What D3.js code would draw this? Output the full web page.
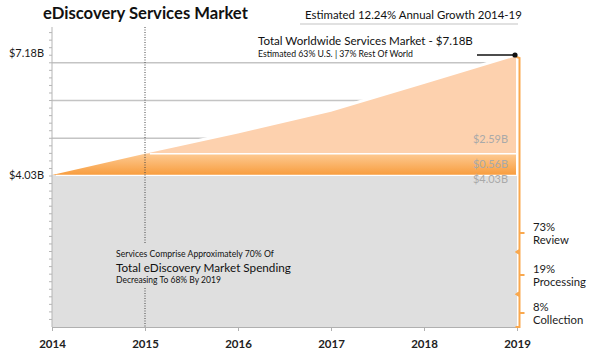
<!DOCTYPE html>
<html>
<head>
<meta charset="utf-8">
<script src="https://cdn.jsdelivr.net/npm/d3@7"></script>
<style>
  html, body { margin: 0; padding: 0; background: #fff; }
  svg { display: block; }
  text { font-family: Lato, "Open Sans", sans-serif; }
</style>
</head>
<body>
<svg id="chart" width="590" height="357"></svg>
<script>
// ---------- data ----------
const years = [2014, 2015, 2016, 2017, 2018, 2019];
const baseValues = [4.03, 4.03, 4.03, 4.03, 4.03, 4.03];      // grey base ($B)
const bandTopValues = [4.03, 4.59, 4.59, 4.59, 4.59, 4.59];   // orange band top ($B)
const totalValues = [4.03, 4.59, 5.13, 5.70, 6.44, 7.18];     // total market ($B)
const gridValues = [5, 6, 7];
const yLabelValues = [7.18, 4.03];
const yLabelTexts = ["$7.18B", "$4.03B"];
const segmentLabels = ["$2.59B", "$0.56B", "$4.03B"];
const segmentLabelValues = [4.99, 4.31, 3.93];
const sharePcts = ["73%", "19%", "8%"];
const shareNames = ["Review", "Processing", "Collection"];
const sharePointers = [2.49, 1.38, 0.37];
const shareBounds = [1.99, 0.87];
const title = "eDiscovery Services Market";
const subtitle = "Estimated 12.24% Annual Growth 2014-19";
const totalTitle = "Total Worldwide Services Market - $7.18B";
const totalSub = "Estimated 63% U.S. | 37% Rest Of World";
const noteLines = ["Services Comprise Approximately 70% Of", "Total eDiscovery Market Spending", "Decreasing To 68% By 2019"];

// ---------- setup ----------
const svg = d3.select("#chart");
const x = d3.scaleLinear().domain([2014, 2019]).range([52, 517]);
const y = d3.scaleLinear().domain([0, 7.18]).range([327, 56]);

function fit(sel, w) {
  const l = sel.node().getComputedTextLength();
  const fs = parseFloat(sel.attr("font-size"));
  sel.attr("font-size", (fs * w / l).toFixed(2));
  return sel;
}

const defs = svg.append("defs");
const g1 = defs.append("linearGradient").attr("id", "orangeGrad")
  .attr("gradientUnits", "userSpaceOnUse")
  .attr("x1", 0).attr("x2", 0).attr("y1", y(4.59)).attr("y2", y(4.03));
g1.append("stop").attr("offset", "0%").attr("stop-color", "#fdca93");
g1.append("stop").attr("offset", "100%").attr("stop-color", "#f89d3e");

// gridlines
svg.append("g").selectAll("line").data(gridValues).join("line")
  .attr("x1", x(2014)).attr("x2", x(2019))
  .attr("y1", d => y(d)).attr("y2", d => y(d))
  .attr("stroke", "#c4c4c4").attr("stroke-width", 1.5);

const idx = d3.range(years.length);

// white halo around total line
const topLine = d3.line().x(i => x(years[i])).y(i => y(totalValues[i]));
svg.append("path").attr("d", topLine(idx.slice(1)))
  .attr("fill", "none").attr("stroke", "#fff").attr("stroke-width", 6);

// grey base area
svg.append("path")
  .attr("d", d3.area().x(i => x(years[i])).y0(y(0)).y1(i => y(baseValues[i]))(idx))
  .attr("fill", "#dfdfdf");

// peach area (2015 onward)
svg.append("path")
  .attr("d", d3.area().x(i => x(years[i])).y0(i => y(bandTopValues[i])).y1(i => y(totalValues[i]))(idx.slice(1)))
  .attr("fill", "#fdd1ae");

// orange band
svg.append("path")
  .attr("d", d3.area().x(i => x(years[i])).y0(i => y(baseValues[i])).y1(i => y(bandTopValues[i]))(idx))
  .attr("fill", "url(#orangeGrad)");

// white separators
svg.append("line").attr("x1", x(2015) + 5).attr("x2", x(2019))
  .attr("y1", y(4.59)).attr("y2", y(4.59)).attr("stroke", "#fff").attr("stroke-width", 1.5);
svg.append("line").attr("x1", x(2014) + 4).attr("x2", x(2019))
  .attr("y1", y(4.03) + 0.5).attr("y2", y(4.03) + 0.5).attr("stroke", "#fff").attr("stroke-width", 1.2);
svg.append("line").attr("x1", x(2019) - 0.5).attr("x2", x(2019) - 0.5)
  .attr("y1", y(7.18) + 2).attr("y2", y(4.03)).attr("stroke", "#fff").attr("stroke-width", 1);

// y axis line + minor ticks
svg.append("line").attr("x1", x(2014)).attr("x2", x(2014)).attr("y1", 27).attr("y2", y(0))
  .attr("stroke", "#b5b5b5").attr("stroke-width", 1);
svg.append("g").selectAll("line").data(d3.range(1, 40).map(d => d * 0.2)).join("line")
  .attr("x1", x(2014) - 3).attr("x2", x(2014))
  .attr("y1", d => y(d)).attr("y2", d => y(d))
  .attr("stroke", "#b5b5b5").attr("stroke-width", 1);

// x axis
const xAxis = d3.axisBottom(x).tickValues(years).tickFormat(d3.format("d")).tickSize(4).tickPadding(7);
const xg = svg.append("g").attr("transform", `translate(0,${y(0)})`).call(xAxis);
xg.select(".domain").attr("stroke", "#b0b0b0");
xg.selectAll(".tick line").attr("stroke", "#b0b0b0");
xg.selectAll(".tick text").attr("font-family", "Lato, sans-serif").attr("font-size", 11.5)
  .attr("font-weight", 700).attr("fill", "#222").attr("dy", "0.32em").attr("y", 17);

// dotted 2015 line (split around note)
[[27, 243], [288, y(0)]].forEach(([a, b]) => {
  svg.append("line").attr("x1", x(2015)).attr("x2", x(2015)).attr("y1", a).attr("y2", b)
    .attr("stroke", "#444").attr("stroke-width", 1).attr("stroke-dasharray", "1,1.5");
});

// y labels
svg.append("g").selectAll("text").data(yLabelValues).join("text")
  .attr("x", 44).attr("y", (d, i) => y(d) + (i === 0 ? 1 : 4))
  .attr("text-anchor", "end").attr("font-size", 12.5).attr("fill", "#1a1a1a")
  .text((d, i) => yLabelTexts[i])
  .each(function () { fit(d3.select(this), 35); });

// segment labels
svg.append("g").selectAll("text").data(segmentLabels).join("text")
  .attr("x", 508).attr("y", (d, i) => y(segmentLabelValues[i]) + 4)
  .attr("text-anchor", "end").attr("font-size", 12).attr("fill", "#a9a9a9")
  .text(d => d)
  .each(function () { fit(d3.select(this), 35); });

// right orange bracket
const bx = 519.5;
const p = d3.path();
p.moveTo(bx - 3, y(7.18) + 1);
p.lineTo(bx, y(7.18) + 2);
p.lineTo(bx, y(0));
p.lineTo(bx - 4, y(0));
shareBounds.forEach(v => { p.moveTo(bx, y(v) - 2); p.lineTo(bx - 3, y(v)); p.lineTo(bx, y(v) + 2); });
sharePointers.forEach(v => { p.moveTo(bx, y(v)); p.lineTo(bx + 5, y(v)); });
svg.append("path").attr("d", p.toString()).attr("fill", "none")
  .attr("stroke", "#f9a84e").attr("stroke-width", 2);

// share labels
const sl = svg.append("g");
sharePointers.forEach((v, i) => {
  sl.append("text").attr("x", 533).attr("y", y(v) - 2).attr("font-size", 12.5).attr("fill", "#1a1a1a").text(sharePcts[i]);
  sl.append("text").attr("x", 533).attr("y", y(v) + 11).attr("font-size", 12.5).attr("fill", "#1a1a1a").text(shareNames[i]);
});
fit(sl.selectAll("text").filter(function () { return this.textContent === "Processing"; }), 53);
const shareFs = sl.selectAll("text").filter(function () { return this.textContent === "Processing"; }).attr("font-size");
sl.selectAll("text").attr("font-size", shareFs);

// title
fit(svg.append("text").attr("x", 43).attr("y", 19).attr("font-size", 18).attr("font-weight", 700)
  .attr("fill", "#111").text(title), 205);
fit(svg.append("text").attr("x", 305).attr("y", 19).attr("font-size", 12).attr("fill", "#111").text(subtitle), 217);
svg.append("line").attr("x1", 300).attr("x2", 518).attr("y1", 24).attr("y2", 24)
  .attr("stroke", "#c4c4c4").attr("stroke-width", 1.2);

// total annotation
fit(svg.append("text").attr("x", 258).attr("y", 45).attr("font-size", 13).attr("fill", "#111").text(totalTitle), 215);
fit(svg.append("text").attr("x", 258).attr("y", 56.5).attr("font-size", 9).attr("fill", "#111").text(totalSub), 155);
svg.append("line").attr("x1", 477).attr("x2", x(2019) - 2).attr("y1", y(7.18) - 1).attr("y2", y(7.18) - 1)
  .attr("stroke", "#111").attr("stroke-width", 1.5);
svg.append("circle").attr("cx", x(2019) - 2).attr("cy", y(7.18) - 1).attr("r", 2.6).attr("fill", "#111");

// note text
const noteW = [158, 175, 105];
const noteY = [256.5, 271.5, 283];
const noteFs = [9, 13, 9];
noteLines.forEach((t, i) => {
  fit(svg.append("text").attr("x", 116).attr("y", noteY[i]).attr("font-size", noteFs[i]).attr("fill", "#111").text(t), noteW[i]);
});
</script>
</body>
</html>
